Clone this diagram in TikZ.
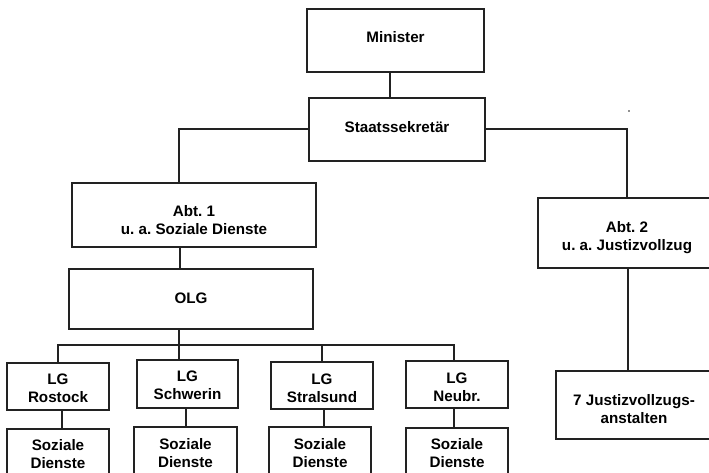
\documentclass[tikz,border=0pt]{standalone}
\usepackage{fontspec}
\setmainfont{Liberation Sans}
\frenchspacing
\begin{document}
\begin{tikzpicture}[x=1pt,y=-1pt,
  box/.style={draw=linecol, line width=1.4pt, rectangle, inner sep=0pt},
  txt/.style={inner sep=0pt, align=center, text=black,
    font=\bfseries\fontsize{15.2}{18}\selectfont},
  conn/.style={draw=linecol, line width=1.4pt}]
\definecolor{linecol}{HTML}{222222}
\useasboundingbox (0,0) rectangle (709,473);
\clip (0,0) rectangle (709,473);
\fill[white] (0,0) rectangle (709,473);
% boxes
\node[box, minimum width=177pt, minimum height=63pt,
  label={[txt,yshift=3pt]center:Minister}] (minister) at (395.5,40.5) {};
\node[box, minimum width=176pt, minimum height=63pt,
  label={[txt,yshift=2pt]center:Staatssekretär}] (staats) at (397,129.5) {};
\node[box, minimum width=244pt, minimum height=64pt,
  label={[txt,yshift=-5pt]center:Abt. 1\\u. a. Soziale Dienste}] (abt1) at (194,215) {};
\node[box, minimum width=244pt, minimum height=60pt,
  label={[txt,yshift=1pt]center:OLG}] (olg) at (191,299) {};
\node[box, minimum width=178pt, minimum height=70pt,
  label={[txt,yshift=-5pt]center:Abt. 2\\u. a. Justizvollzug}] (abt2) at (627,233) {};
\node[box, minimum width=156pt, minimum height=68pt,
  label={[txt,yshift=-4pt]center:7 Justizvollzugs-\\anstalten}] (jva) at (634,405) {};
\node[box, minimum width=102pt, minimum height=47pt,
  label={[txt,yshift=-2pt]center:LG\\Rostock}] (lgr) at (58,386.5) {};
\node[box, minimum width=101pt, minimum height=48pt,
  label={[txt,yshift=-1pt]center:LG\\Schwerin}] (lgs) at (187.5,384) {};
\node[box, minimum width=102pt, minimum height=47pt,
  label={[txt,yshift=-2.5pt]center:LG\\Stralsund}] (lgt) at (322,385.5) {};
\node[box, minimum width=102pt, minimum height=47pt,
  label={[txt,yshift=-2.5pt]center:LG\\Neubr.}] (lgn) at (457,384.5) {};
\node[box, minimum width=102pt, minimum height=50pt,
  label={[txt]center:Soziale\\Dienste}] (sdr) at (58,454) {};
\node[box, minimum width=103pt, minimum height=52pt,
  label={[txt]center:Soziale\\Dienste}] (sds) at (185.5,453) {};
\node[box, minimum width=102pt, minimum height=52pt,
  label={[txt]center:Soziale\\Dienste}] (sdt) at (320,453) {};
\node[box, minimum width=102pt, minimum height=51pt,
  label={[txt]center:Soziale\\Dienste}] (sdn) at (457,453.5) {};
% connectors
\coordinate (bus) at (0,345);
\draw[conn] ([xshift=-5.5pt]minister.south) -- ([xshift=-5.5pt]minister.south |- staats.north);
\draw[conn] ([yshift=0.5pt]staats.west) -| ([xshift=-15pt]abt1.north);
\draw[conn] ([yshift=0.5pt]staats.east) -| (abt2.north);
\draw[conn] ([xshift=-14pt]abt1.south) -- ([xshift=-14pt]abt1.south |- olg.north);
\draw[conn] ([xshift=-12pt]olg.south) -- ([xshift=-12pt]olg.south |- lgs.north);
\draw[conn] (lgr.north) -- (lgr.north |- bus) -- ([xshift=-3pt]lgn.north |- bus) -- ([xshift=-3pt]lgn.north);
\draw[conn] (lgt.north) -- (lgt.north |- bus);
\draw[conn] ([xshift=4pt]lgr.south) -- ([xshift=4pt]lgr.south |- sdr.north);
\draw[conn] ([xshift=-1.5pt]lgs.south) -- ([xshift=-1.5pt]lgs.south |- sds.north);
\draw[conn] ([xshift=2pt]lgt.south) -- ([xshift=2pt]lgt.south |- sdt.north);
\draw[conn] ([xshift=-3pt]lgn.south) -- ([xshift=-3pt]lgn.south |- sdn.north);
\draw[conn] ([xshift=1pt]abt2.south) -- ([xshift=1pt]abt2.south |- jva.north);
% stray dot
\fill[linecol] (629,111) circle (0.8pt);
\end{tikzpicture}
\end{document}
